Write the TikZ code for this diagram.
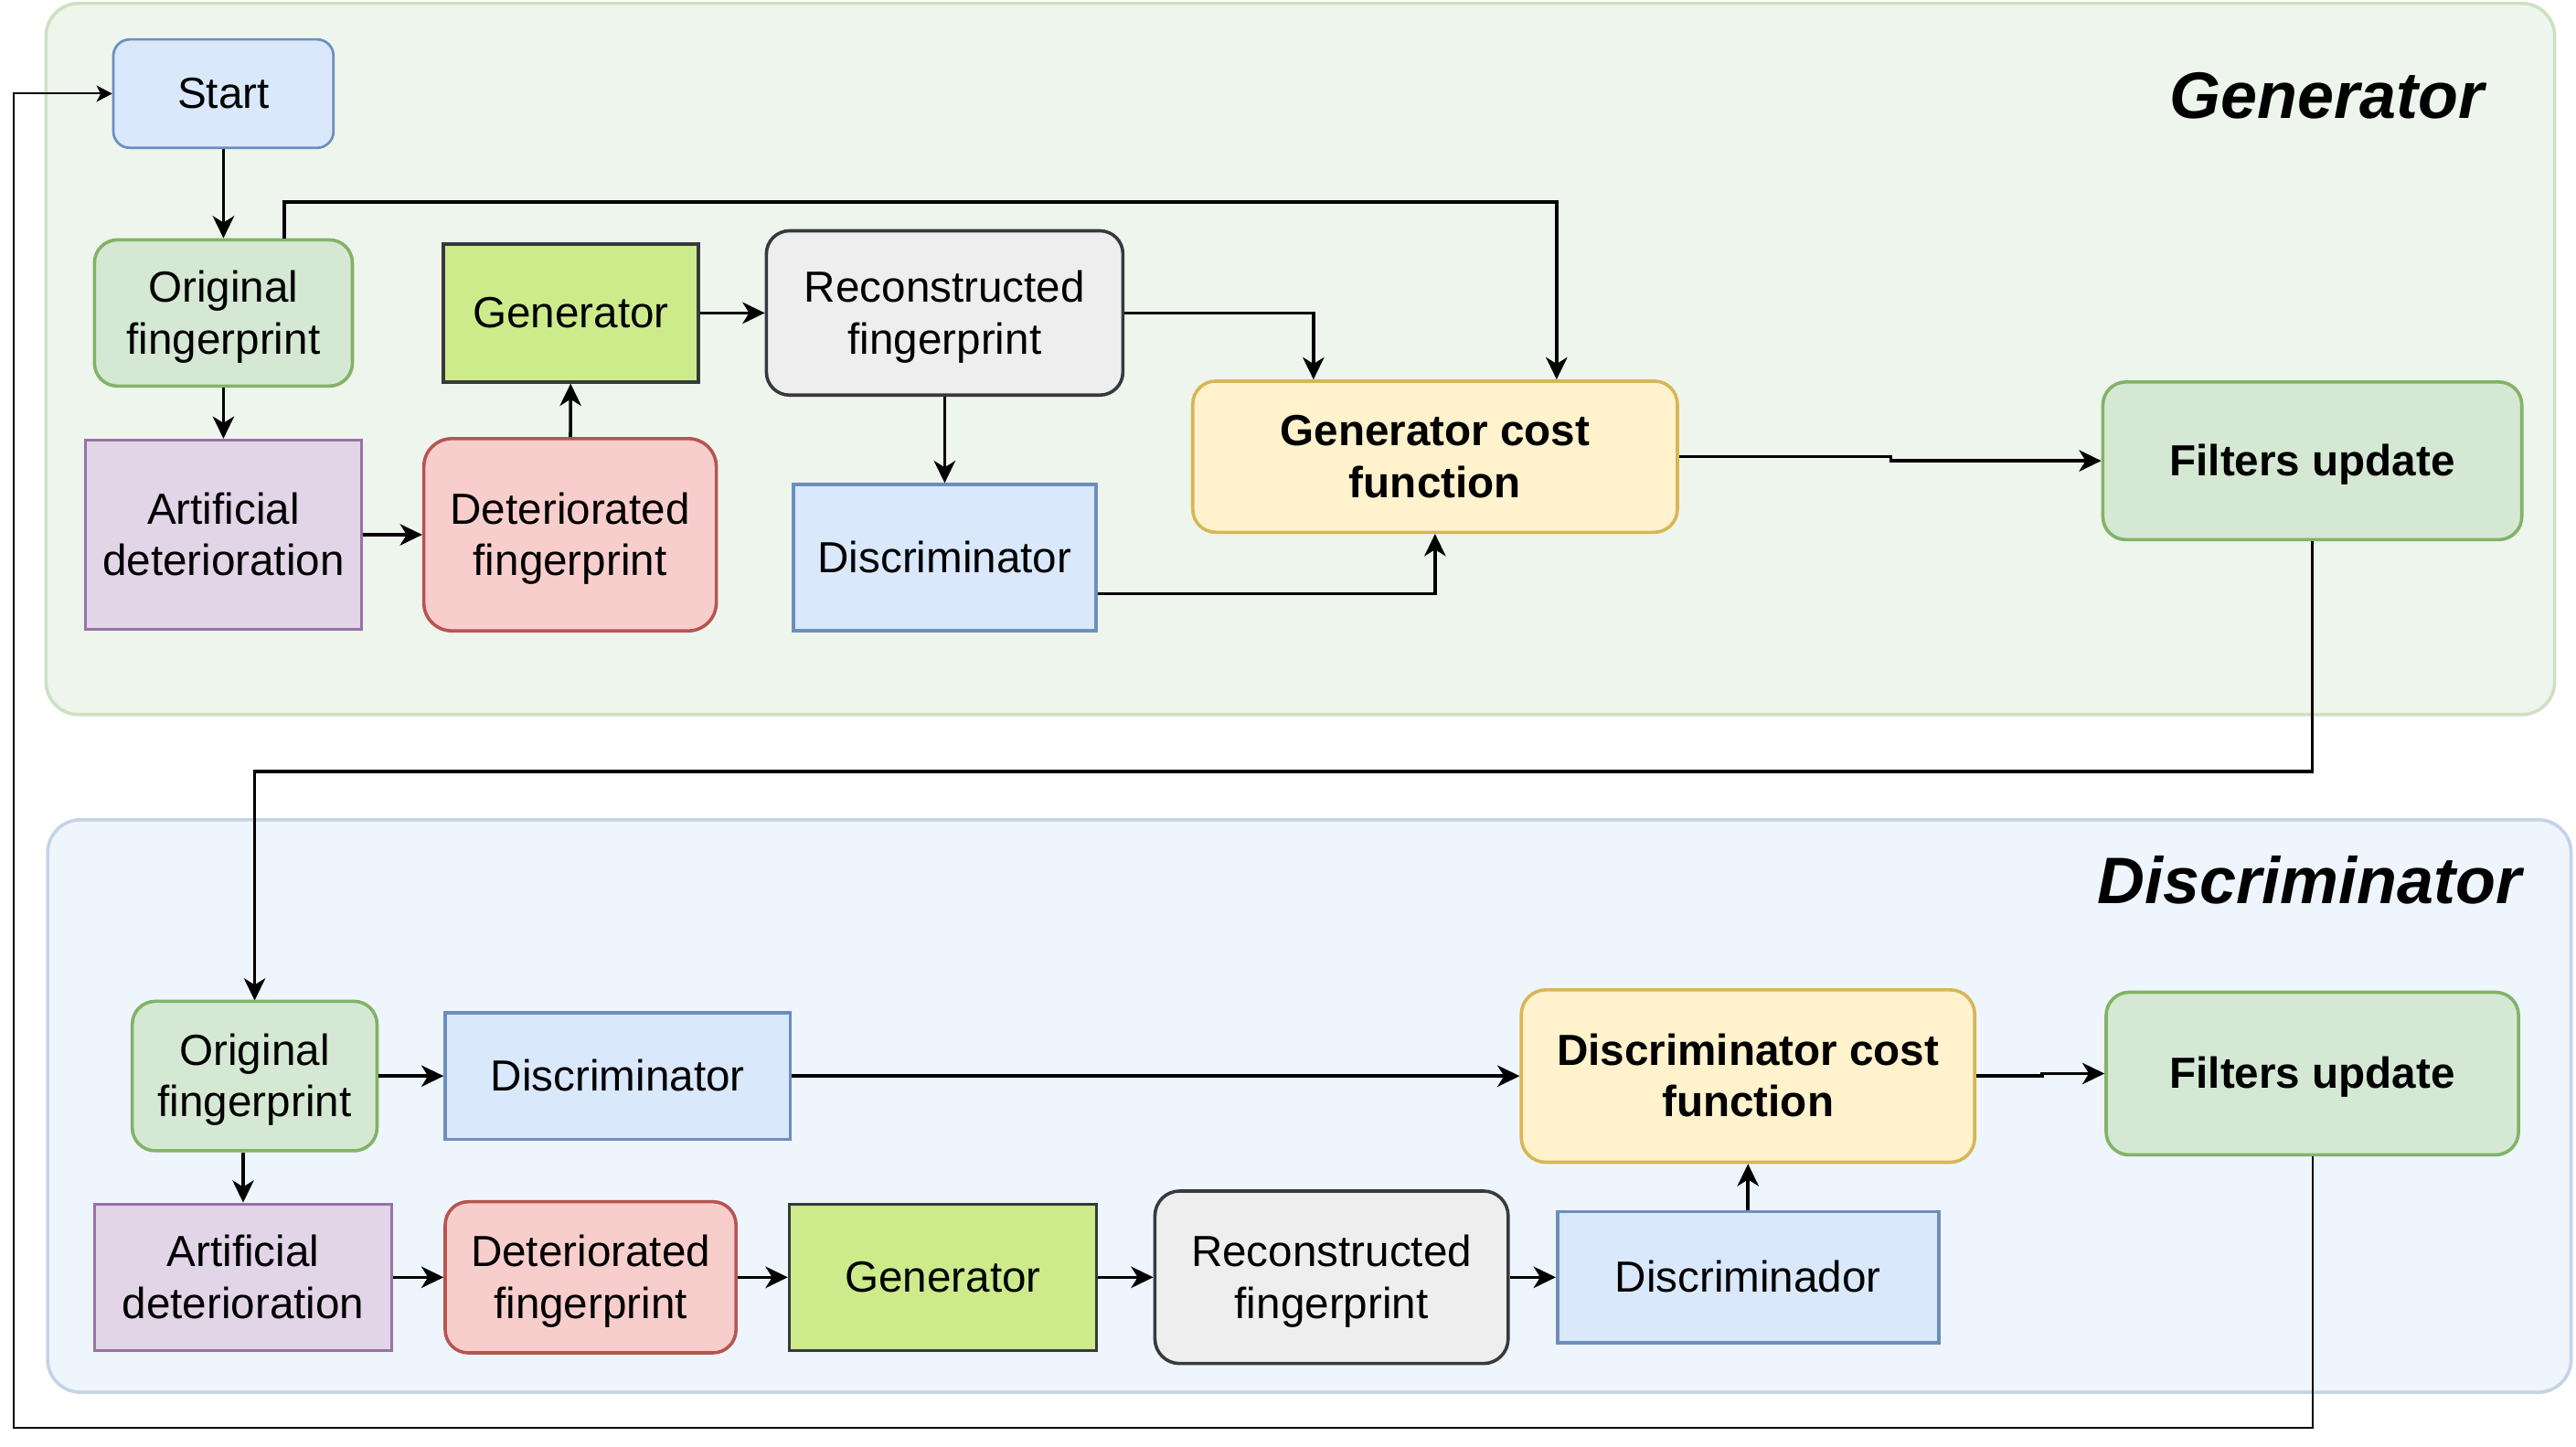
\documentclass[tikz,border=0pt]{standalone}
\usepackage{fontspec}
\setmainfont{Liberation Sans}
\usetikzlibrary{arrows.meta, positioning, calc}
\definecolor{grnfill}{HTML}{D5E8D4}
\definecolor{grndraw}{HTML}{82B366}
\definecolor{bluefill}{HTML}{DAE8FC}
\definecolor{bluedraw}{HTML}{6C8EBF}
\definecolor{purpfill}{HTML}{E1D5E7}
\definecolor{purpdraw}{HTML}{9673A6}
\definecolor{redfill}{HTML}{F8CECC}
\definecolor{reddraw}{HTML}{B85450}
\definecolor{limefill}{HTML}{CDEB8B}
\definecolor{greyfill}{HTML}{EEEEEE}
\definecolor{darkdraw}{HTML}{36393D}
\definecolor{yelfill}{HTML}{FFF2CC}
\definecolor{yeldraw}{HTML}{D6B656}
\definecolor{genpanel}{HTML}{EEF5EC}
\definecolor{genpaneldraw}{HTML}{CDE1C2}
\definecolor{dispanel}{HTML}{EEF5FD}
\definecolor{dispaneldraw}{HTML}{C4D3E6}
% struts, so the lines sit as in the original
\newcommand{\topstr}{\rule{0pt}{24.9pt}}
\newcommand{\twostr}{\rule{0pt}{56.4pt}}
\newcommand{\botstr}{\rule[-6.6pt]{0pt}{6.6pt}}
\tikzset{
    box/.style={draw, line width=2pt, align=center, inner sep=2pt,
        font=\fontsize{26.5}{31.5}\selectfont,
        execute at begin node=\topstr, execute at end node=\botstr},
    twoline/.style={execute at begin node=\twostr},
    rbox/.style={box, rounded corners=14pt},
    strong/.style={font=\fontsize{26.5}{31.5}\selectfont\bfseries},
    greenbox/.style={fill=grnfill, draw=grndraw},
    bluebox/.style={fill=bluefill, draw=bluedraw},
    purplebox/.style={fill=purpfill, draw=purpdraw},
    redbox/.style={fill=redfill, draw=reddraw},
    limebox/.style={fill=limefill, draw=darkdraw},
    greybox/.style={fill=greyfill, draw=darkdraw},
    yellowbox/.style={fill=yelfill, draw=yeldraw},
    flow/.style={-{Stealth[length=13.5pt, width=13pt, inset=4pt]}, line width=2pt},
    backflow/.style={-{Stealth[length=9.5pt, width=10pt, inset=2.5pt]}, line width=1.1pt},
    title/.style={font=\fontsize{40}{48}\selectfont\bfseries\itshape, anchor=base east, inner sep=0pt}
}
\begin{document}
\begin{tikzpicture}[x=1pt, y=-1pt]
    \useasboundingbox (0,0) rectangle (1568,880.3);
    % Panels
    \draw[fill=genpanel, draw=genpaneldraw, line width=2pt, rounded corners=20pt] (28,2) rectangle (1555,435);
    \draw[fill=dispanel, draw=dispaneldraw, line width=2pt, rounded corners=20pt] (29,499) rectangle (1565,847.5);
    \node[title] (gtitle) at (1512,72) {Generator};
    \node[title] (dtitle) at (1535,550) {Discriminator};

    % Generator training
    \node[rbox, bluebox, line width=1.5pt, rounded corners=10pt, minimum width=134, minimum height=66] (start) at (136,57) {Start};
    \node[rbox, greenbox, twoline, minimum width=157, minimum height=89] (orig) at (136,190.5) {Original\\fingerprint};
    \node[box, purplebox, twoline, minimum width=168, minimum height=115] (artif) at (136,325.5) {Artificial\\deterioration};
    \node[rbox, redbox, twoline, rounded corners=17pt, minimum width=178, minimum height=117] (deter) at (347,325.5) {Deteriorated\\fingerprint};
    \node[box, limebox, minimum width=155, minimum height=84] (gen) at (347.5,190.5) {Generator};
    \node[rbox, greybox, twoline, minimum width=217, minimum height=100] (recon) at (575,190.5) {Reconstructed\\fingerprint};
    \node[box, bluebox, minimum width=184, minimum height=89] (disc) at (575,339.5) {Discriminator};
    \node[rbox, yellowbox, strong, twoline, minimum width=295, minimum height=92] (gcost) at (873.5,278) {Generator cost\\function};
    \node[rbox, greenbox, strong, minimum width=255, minimum height=96] (gfilt) at (1407.5,280.5) {Filters update};

    \draw[flow] (start) -- (orig);
    \draw[flow] ([xshift=37pt]orig.north) -- ++(0,-22) -| ([xshift=74pt]gcost.north);
    \draw[flow] (orig) -- (artif);
    \draw[flow] (artif) -- (deter);
    \draw[flow] (deter) -- (gen);
    \draw[flow] (gen) -- (recon);
    \draw[flow] (recon.east) -| ([xshift=-74pt]gcost.north);
    \draw[flow] (recon) -- (disc);
    \draw[flow] ([yshift=-22pt]disc.east) -| (gcost.south);
    \draw[flow] (gcost.east) -- ++(129,0) |- (gfilt.west);
    \draw[flow] (gfilt.south) -- ++(0,140) -| (155,609);

    % Discriminator training
    \node[rbox, greenbox, twoline, minimum width=149, minimum height=91] (dorig) at (155,655) {Original\\fingerprint};
    \node[box, bluebox, minimum width=210, minimum height=77] (ddisc) at (376,655) {Discriminator};
    \node[rbox, yellowbox, strong, twoline, rounded corners=15pt, minimum width=276, minimum height=105] (dcost) at (1064,655) {Discriminator cost\\function};
    \node[rbox, greenbox, strong, minimum width=251, minimum height=99] (dfilt) at (1407.5,653.5) {Filters update};
    \node[box, purplebox, twoline, minimum width=181, minimum height=89] (dartif) at (148,777.5) {Artificial\\deterioration};
    \node[rbox, redbox, twoline, minimum width=177, minimum height=92] (ddeter) at (359.5,777.5) {Deteriorated\\fingerprint};
    \node[box, limebox, minimum width=187, minimum height=89] (dgen) at (574,777.5) {Generator};
    \node[rbox, greybox, twoline, rounded corners=15pt, minimum width=215, minimum height=105] (drecon) at (810.5,777.5) {Reconstructed\\fingerprint};
    \node[box, bluebox, minimum width=232, minimum height=80] (ddisc2) at (1064,777.5) {Discriminador};

    \draw[flow] (dorig) -- (ddisc);
    \draw[flow] (dorig.south -| dartif.north) -- (dartif.north);
    \draw[flow] (ddisc) -- (dcost);
    \draw[flow] (dcost.east) -- ++(40,0) |- (dfilt.west);
    \draw[flow] (dartif) -- (ddeter);
    \draw[flow] (ddeter) -- (dgen);
    \draw[flow] (dgen) -- (drecon);
    \draw[flow] (drecon) -- (ddisc2);
    \draw[flow] (ddisc2) -- (dcost);

    % Back to start
    \coordinate (turn) at (8.5,869);
    \draw[backflow] (dfilt.south) |- (turn) |- (start.west);
\end{tikzpicture}
\end{document}
